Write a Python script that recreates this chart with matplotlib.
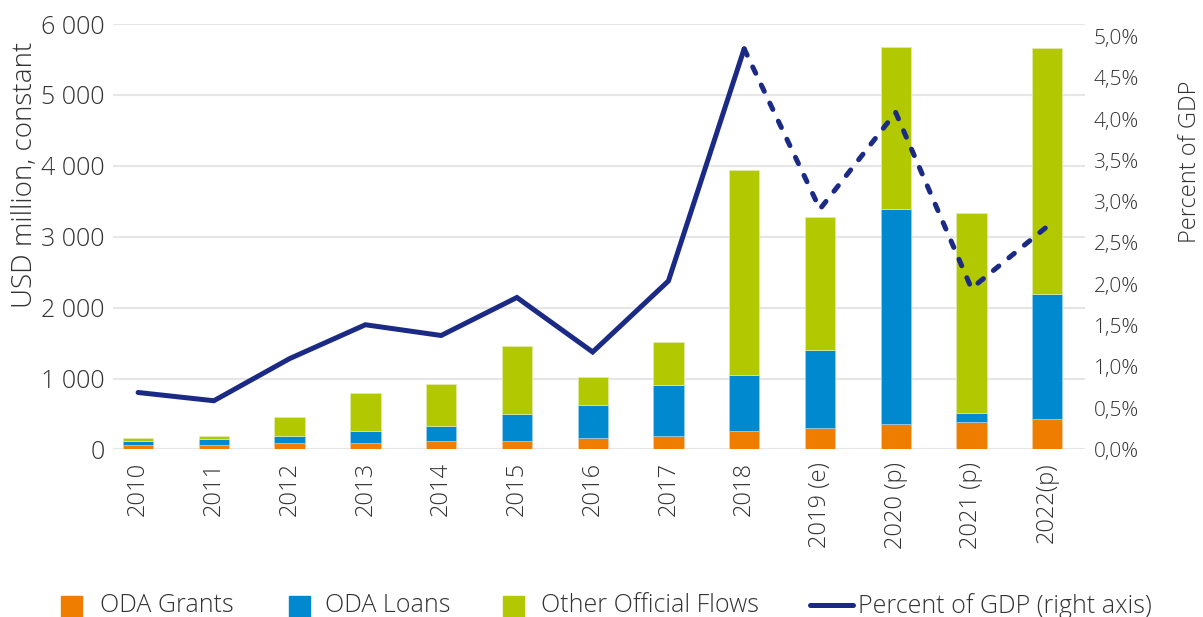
import matplotlib.pyplot as plt
from matplotlib.patches import Rectangle
from matplotlib.lines import Line2D
from matplotlib.ticker import FuncFormatter

plt.rcParams['font.family'] = ['Open Sans', 'DejaVu Sans']
plt.rcParams['font.weight'] = 'light'

years = ['2010', '2011', '2012', '2013', '2014', '2015', '2016', '2017', '2018',
         '2019 (e)', '2020 (p)', '2021 (p)', '2022(p)']
grants = [59, 63, 92, 92, 120, 120, 158, 186, 261, 303, 355, 392, 434]
loans = [65, 81, 98, 169, 216, 385, 465, 719, 789, 1097, 3038, 127, 1759]
other = [38, 51, 273, 532, 584, 955, 395, 611, 2890, 1880, 2284, 2821, 3466]
pct_gdp = [0.69, 0.59, 1.10, 1.51, 1.38, 1.84, 1.18, 2.04, 4.85, 2.91, 4.08, 1.95, 2.70]

c_grants = '#EF7D00'
c_loans = '#0089CF'
c_other = '#B2C800'
c_line = '#1B2A85'
c_text = '#333333'

fig = plt.figure(figsize=(12.03, 6.17), dpi=100)
ax = fig.add_axes([0.094, 0.2715, 0.808, 0.6895])
x = list(range(len(years)))
w = 0.4

bot3 = [g + l for g, l in zip(grants, loans)]
ax.bar(x, grants, w, color=c_grants, edgecolor='#f7c9a0', linewidth=0.5, zorder=2)
ax.bar(x, loans, w, bottom=grants, color=c_loans, edgecolor='#9fd0ee', linewidth=0.5, zorder=2)
ax.bar(x, other, w, bottom=bot3, color=c_other, edgecolor='#e3ebb0', linewidth=0.5, zorder=2)

ax.set_ylim(0, 6000)
ax.set_yticks(range(0, 6001, 1000))
ax.yaxis.set_major_formatter(FuncFormatter(lambda v, p: '{:,.0f}'.format(v).replace(',', ' ')))
ax.set_xlim(-0.33, 12.5)
ax.set_xticks(x)
ax.set_xticklabels(years, rotation=90)
ax.grid(axis='y', color='#e6e6e6', linewidth=1.5, zorder=0)
ax.set_axisbelow(True)
for s in ax.spines.values():
    s.set_visible(False)
ax.tick_params(length=0, labelsize=18, colors=c_text, pad=6)
ax.tick_params(axis='x', labelsize=17, pad=9)
fig.text(0.021, 0.716, 'USD million, constant', rotation=90, ha='center', va='center',
         fontsize=20, color=c_text)

ax2 = ax.twinx()
ax2.set_ylim(0, 5.15)
ax2.set_yticks([i * 0.5 for i in range(11)])
ax2.yaxis.set_major_formatter(FuncFormatter(lambda v, p: '{:.1f}%'.format(v).replace('.', ',')))
for s in ax2.spines.values():
    s.set_visible(False)
ax2.tick_params(length=0, labelsize=15, colors=c_text, pad=6)
ax2.plot(x[:9], pct_gdp[:9], color=c_line, lw=3.6, solid_capstyle='round',
         solid_joinstyle='miter', zorder=3)
ax2.plot(x[8:], pct_gdp[8:], color=c_line, lw=3.6, linestyle=(0, (1.4, 2.6)),
         dash_capstyle='round', zorder=3)
fig.text(0.989, 0.737, 'Percent of GDP', rotation=90, ha='center', va='center',
         fontsize=17, color=c_text)

# legend drawn by hand along the bottom edge
W, H = 1203.0, 617.0
yc = (H - 606) / H
items = [(61, c_grants, 'ODA Grants', 100), (289, c_loans, 'ODA Loans', 325),
         (503, c_other, 'Other Official Flows', 541)]
for x0, col, lab, tx in items:
    fig.patches.append(Rectangle((x0 / W, 0.0), 21 / W, 21 / H, color=col,
                                 transform=fig.transFigure, figure=fig))
    fig.text(tx / W, yc, lab, ha='left', va='center', fontsize=18, color=c_text)
fig.add_artist(Line2D([810 / W, 853 / W], [yc + 1 / H, yc + 1 / H], color=c_line, lw=3.6,
                      solid_capstyle='round', transform=fig.transFigure))
fig.text(858 / W, yc, 'Percent of GDP (right axis)', ha='left', va='center',
         fontsize=18, color=c_text)

fig.savefig('out.png', dpi=100)
